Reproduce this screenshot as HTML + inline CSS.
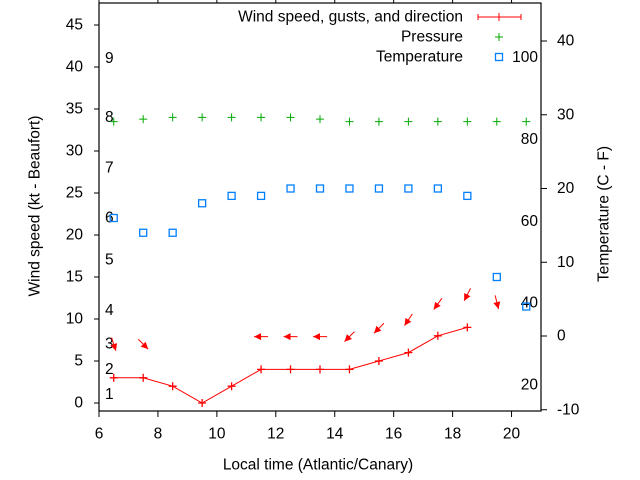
<!DOCTYPE html>
<html><head><meta charset="utf-8"><style>
html,body{margin:0;padding:0;background:#fff}
svg{display:block;font-family:"Liberation Sans",Arial,sans-serif;font-size:15.5px}
</style></head><body>
<svg id="chart" width="640" height="480" viewBox="0 0 640 480" xmlns="http://www.w3.org/2000/svg"></svg>
<script>
const windTimes=[6.5,7.5,8.5,9.5,10.5,11.5,12.5,13.5,14.5,15.5,16.5,17.5,18.5];
const windSpeed=[3,3,2,0,2,4,4,4,4,5,6,8,9];
const arrowTimes=[6.5,7.5,11.5,12.5,13.5,14.5,15.5,16.5,17.5,18.5,19.5];
const gustSpeed=[7,7,7.9,7.9,7.9,7.9,8.9,9.9,11.8,12.9,12];
const windDir=[342,315,90,90,90,45,45,34,36,27,346];
const pressTimes=[6.5,7.5,8.5,9.5,10.5,11.5,12.5,13.5,14.5,15.5,16.5,17.5,18.5,19.5,20.5];
const pressure=[33.5,33.8,34,34,34,34,34,33.8,33.5,33.5,33.5,33.5,33.5,33.5,33.5];
const tempTimes=[6.5,7.5,8.5,9.5,10.5,11.5,12.5,13.5,14.5,15.5,16.5,17.5,18.5,19.5,20.5];
const tempC=[16,14,14,18,19,19,20,20,20,20,20,20,19,8,4];
const xTicks=[6,8,10,12,14,16,18,20];
const yTicks=[0,5,10,15,20,25,30,35,40,45];
const y2Ticks=[-10,0,10,20,30,40];
const fTicks=[20,40,60,80,100];
const beaufortKt=[1,4,7,11,17,22,28,34,41];
const beaufortLabels=["1","2","3","4","5","6","7","8","9"];

const L=99,R=541,T=3,B=411;
const X=t=>L+(t-6)*(R-L)/15;
const Y=v=>403-v*8.4;
const Y2=c=>336-c*7.375;
const svg=document.getElementById('chart');
const NS='http://www.w3.org/2000/svg';
function mk(tag,attrs,parent){const e=document.createElementNS(NS,tag);for(const k in attrs)e.setAttribute(k,attrs[k]);(parent||svg).appendChild(e);return e;}
function txt(x,y,s,anchor,name,extra){const e=mk('text',Object.assign({x:x,y:y,'text-anchor':anchor||'middle','dominant-baseline':'central',fill:'#000'},extra||{}));e.textContent=s;


return e;}

const fr=mk('rect',{x:L,y:T,width:R-L,height:B-T,fill:'none',stroke:'#000','stroke-width':1.2});



xTicks.forEach(t=>{const x=X(t);
 mk('line',{x1:x,y1:B,x2:x,y2:B+6,stroke:'#000'});
 mk('line',{x1:x,y1:0,x2:x,y2:T,stroke:'#000'});
 txt(x,434,String(t),'middle','x-tick-label');});
yTicks.forEach(v=>{const y=Y(v);
 mk('line',{x1:L-5,y1:y,x2:L,y2:y,stroke:'#000'});
 txt(83,y,String(v),'end','y-tick-label');});
y2Ticks.forEach(c=>{const y=Y2(c);
 mk('line',{x1:R,y1:y,x2:R+6,y2:y,stroke:'#000'});
 txt(557,y,String(c),'start','y2-tick-label');});
fTicks.forEach(f=>{txt(538,Y2((f-32)/1.8),String(f),'end','fahrenheit-label');});
beaufortKt.forEach((k,i)=>{txt(105,Y(k),beaufortLabels[i],'start','beaufort-label');});

txt(318,465,'Local time (Atlantic/Canary)','middle','x-axis-title');
txt(35,206,'Wind speed (kt - Beaufort)','middle','y-axis-title',{transform:'rotate(-90 35 206)'});
txt(604,214,'Temperature (C - F)','middle','y2-axis-title',{transform:'rotate(-90 604 214)'});

const pl=mk('polyline',{points:windTimes.map((t,i)=>X(t)+','+Y(windSpeed[i])).join(' '),fill:'none',stroke:'#f00','stroke-width':1});


windTimes.forEach((t,i)=>{const x=X(t),y=Y(windSpeed[i]);
 const g=mk('path',{d:`M${x-4},${y}H${x+4}M${x},${y-4}V${y+4}`,stroke:'#f00','stroke-width':1.3});
 
 });

arrowTimes.forEach((t,i)=>{const cx=X(t),cy=Y(gustSpeed[i]);const d=windDir[i]*Math.PI/180;
 const ux=-Math.sin(d),uy=Math.cos(d),len=14;
 const x1=cx-ux*len/2,y1=cy-uy*len/2,x2=cx+ux*len/2,y2=cy+uy*len/2;
 const px=-uy,py=ux,h=7,w=3.5;
 const g=mk('g',{});
 
 
 mk('line',{x1:x1,y1:y1,x2:x2,y2:y2,stroke:'#f00','stroke-width':1},g);
 mk('polygon',{points:`${x2},${y2} ${x2-ux*h+px*w},${y2-uy*h+py*w} ${x2-ux*h-px*w},${y2-uy*h-py*w}`,fill:'#f00'},g);});

pressTimes.forEach((t,i)=>{const x=X(t),y=Y(pressure[i]);
 const g=mk('path',{d:`M${x-4},${y}H${x+4}M${x},${y-4}V${y+4}`,stroke:'#0a0','stroke-width':1});
 
 });

tempTimes.forEach((t,i)=>{const x=X(t),y=Y2(tempC[i]);
 const r=mk('rect',{x:x-3.5,y:y-3.5,width:7,height:7,fill:'none',stroke:'#0080ff','stroke-width':1.3});
 
 });

txt(463,17,'Wind speed, gusts, and direction','end','legend-wind-label');
const lw=mk('path',{d:'M478,17H521M478,14V20M521,14V20M499,13V21',stroke:'#f00','stroke-width':1});


txt(463,37,'Pressure','end','legend-pressure-label');
const lp=mk('path',{d:'M495,37H503M499,33V41',stroke:'#0a0','stroke-width':1});


txt(463,57,'Temperature','end','legend-temperature-label');
const lt=mk('rect',{x:495.5,y:53.5,width:7,height:7,fill:'none',stroke:'#0080ff','stroke-width':1.3});


</script>
</body></html>
